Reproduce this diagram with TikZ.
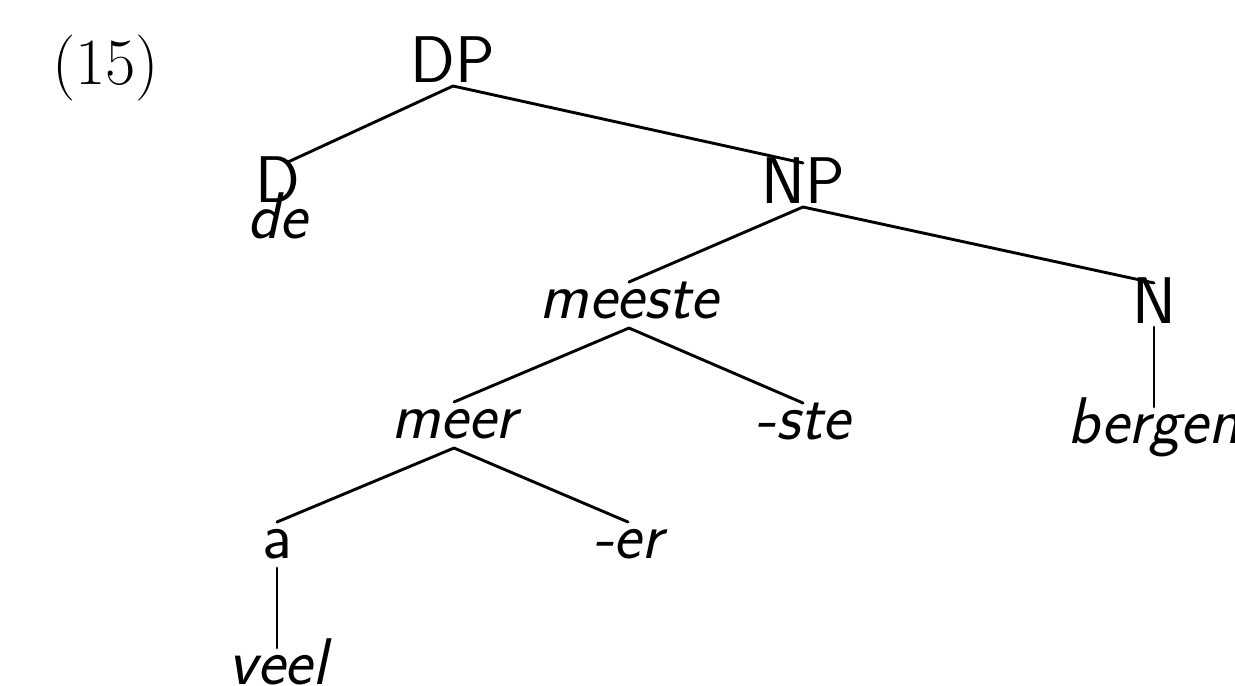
\documentclass[tikz,border=0pt]{standalone}
\tikzset{
  txt/.style={inner sep=0pt, outer sep=0pt, anchor=base,
    font=\fontsize{33}{36}\selectfont\sffamily},
  cat/.style={txt, text height=20pt, text depth=2pt},
  low/.style={txt, text height=18pt, text depth=5pt},
  word/.style={low, font=\fontsize{33}{36}\selectfont\sffamily\itshape},
  branch/.style={line width=1.45pt, line cap=round},
}
\begin{document}
\begin{tikzpicture}[x=0.5pt,y=-0.5pt]
\useasboundingbox (0,0) rectangle (1235,685);

% example number
\node[txt, anchor=base west, font=\fontsize{33}{36}\selectfont\rmfamily] (ex) at (52,84) {(15)};

% tree nodes
\node[cat]  (dp)     at (453,82)  {DP};
\node[cat]  (d)      at (278,202) {D};
\node[word] (de)     at (277,238) {de};
\node[cat]  (np)     at (803,203) {NP};
\node[word] (meeste) at (629,318) {meeste};
\node[cat]  (n)      at (1154,323) {N};
\node[word] (meer)   at (454,438) {meer};
\node[word] (ste)    at (803,439) {-ste};
\node[word] (bergen) at (1154,443) {bergen};
\node[low]  (a)      at (277,558) {a};
\node[word] (er)     at (628,558) {-er};
\node[word] (veel)   at (278,684) {veel};

% branches
\draw[branch] (dp.south) -- ([xshift=5]d.north);
\draw[branch] (dp.south) -- (np.north);
\draw[branch] (np.south) -- (meeste.north);
\draw[branch] (np.south) -- (n.north);
\draw[branch] (n.south) -- (n.south |- bergen.north);
\draw[branch] (meeste.south) -- (meer.north);
\draw[branch] (meeste.south) -- (ste.north);
\draw[branch] (meer.south) -- (a.north);
\draw[branch] (meer.south) -- (er.north);
\draw[branch] (a.south) -- (a.south |- veel.north);
\end{tikzpicture}
\end{document}
